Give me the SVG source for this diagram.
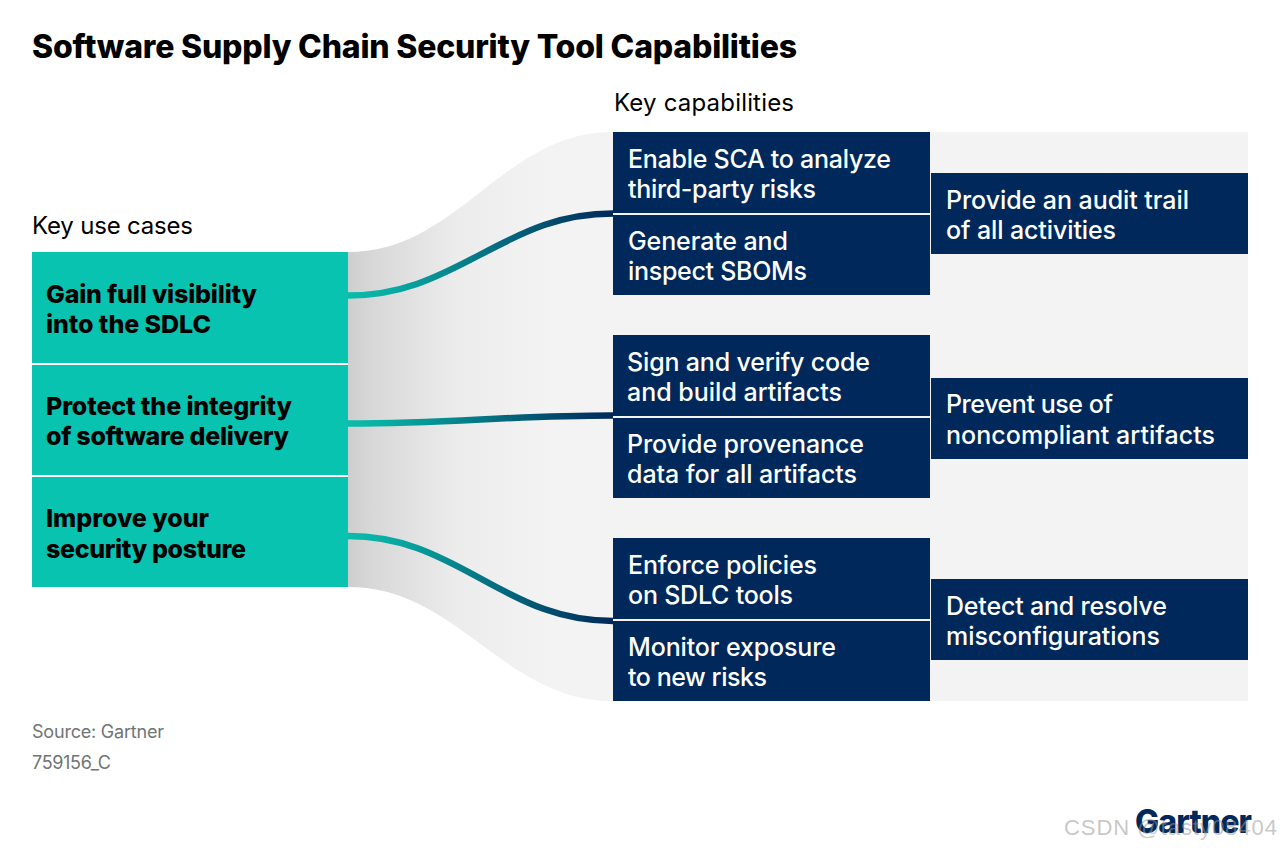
<svg xmlns="http://www.w3.org/2000/svg" width="1280" height="848" viewBox="0 0 1280 848">
<style>
text{font-family:Inter,"Liberation Sans",sans-serif}
.t{font-size:32px;font-weight:800;fill:#000}
.h{font-size:24px;font-weight:400;fill:#000}
.u{font-size:25px;font-weight:800;fill:#000}
.c{font-size:25px;font-weight:500;fill:#fff}
.s{font-size:18px;fill:#6e7575}
.teal{fill:#08c3af}
.navy{fill:#00285a}
.link{fill:none;stroke-width:6.500}
</style>
<defs>
<linearGradient id="band" gradientUnits="userSpaceOnUse" x1="348" y1="0" x2="545" y2="0">
<stop offset="0" stop-color="#cecece"/><stop offset="0.127" stop-color="#d8d8d8"/><stop offset="0.553" stop-color="#ececec"/><stop offset="1" stop-color="#f3f3f3"/>
</linearGradient>
<linearGradient id="lg1" gradientUnits="userSpaceOnUse" x1="348" y1="0" x2="613" y2="0">
<stop offset="0" stop-color="#08bdaa"/><stop offset="0.15" stop-color="#08ada3"/><stop offset="1" stop-color="#00285a"/>
</linearGradient>
</defs>
<rect width="1280" height="848" fill="#fff"/>
<text class="t" x="32" y="58" textLength="765">Software Supply Chain Security Tool Capabilities</text>
<text class="h" x="614" y="111" textLength="180">Key capabilities</text>
<text class="h" x="32" y="234" textLength="161">Key use cases</text>
<path id="band-bg" d="M348 252C400 252 435.500 227 480.500 192S561 132 613 132H1248V701H613C561 701 525.500 677.300 480.500 644S400 587 348 587Z" fill="url(#band)"/>
<g id="connectors">
<path class="link" stroke="url(#lg1)" d="M348 295.500C400 295.500 435.500 278.400 480.500 254.500S561 213.500 613 213.500"/>
<path class="link" stroke="url(#lg1)" d="M348 423.500C400 423.500 435.500 421.800 480.500 419.500S561 415.500 613 415.500"/>
<path class="link" stroke="url(#lg1)" d="M348 536C400 536 435.500 553.700 480.500 578.500S561 621 613 621"/>
</g>
<g id="use-1"><rect class="teal" x="32" y="252" width="316" height="111"/><text class="u" x="46" y="303" textLength="211">Gain full visibility</text><text class="u" x="46" y="333" textLength="165">into the SDLC</text></g>
<g id="use-2"><rect class="teal" x="32" y="365" width="316" height="110"/><text class="u" x="46" y="415" textLength="246">Protect the integrity</text><text class="u" x="46" y="445" textLength="243">of software delivery</text></g>
<g id="use-3"><rect class="teal" x="32" y="477" width="316" height="110"/><text class="u" x="46" y="527" textLength="163">Improve your</text><text class="u" x="46" y="558" textLength="200">security posture</text></g>
<g id="cap-1"><rect class="navy" x="613" y="132" width="317" height="81"/><text class="c" x="628" y="168" textLength="263">Enable SCA to analyze</text><text class="c" x="628" y="198" textLength="188">third-party risks</text></g>
<g id="cap-2"><rect class="navy" x="613" y="215" width="317" height="80"/><text class="c" x="628" y="250" textLength="160">Generate and</text><text class="c" x="628" y="280" textLength="179">inspect SBOMs</text></g>
<g id="cap-3"><rect class="navy" x="613" y="335" width="317" height="81"/><text class="c" x="627" y="371" textLength="243">Sign and verify code</text><text class="c" x="627" y="401" textLength="215">and build artifacts</text></g>
<g id="cap-4"><rect class="navy" x="613" y="418" width="317" height="80"/><text class="c" x="627" y="453" textLength="237">Provide provenance</text><text class="c" x="627" y="483" textLength="230">data for all artifacts</text></g>
<g id="cap-5"><rect class="navy" x="613" y="538" width="317" height="81"/><text class="c" x="628" y="574" textLength="189">Enforce policies</text><text class="c" x="628" y="604" textLength="165">on SDLC tools</text></g>
<g id="cap-6"><rect class="navy" x="613" y="621" width="317" height="80"/><text class="c" x="628" y="656" textLength="208">Monitor exposure</text><text class="c" x="628" y="686" textLength="139">to new risks</text></g>
<g id="out-1"><rect class="navy" x="931" y="173" width="317" height="81"/><text class="c" x="946" y="209" textLength="243">Provide an audit trail</text><text class="c" x="946" y="239" textLength="170">of all activities</text></g>
<g id="out-2"><rect class="navy" x="931" y="378" width="317" height="81"/><text class="c" x="946" y="413" textLength="167">Prevent use of</text><text class="c" x="946" y="444" textLength="269">noncompliant artifacts</text></g>
<g id="out-3"><rect class="navy" x="931" y="579" width="317" height="81"/><text class="c" x="946" y="615" textLength="221">Detect and resolve</text><text class="c" x="946" y="645" textLength="214">misconfigurations</text></g>
<text class="s" x="32" y="738" textLength="132">Source: Gartner</text>
<text class="s" x="32" y="769" textLength="79">759156_C</text>
<text x="1135" y="833" textLength="117" style="font-size:32px;font-weight:800;fill:#00285a">Gartner</text>
<text x="1064" y="835" textLength="213" style="font-family:'Liberation Sans',sans-serif;font-size:22px;fill:#999;fill-opacity:.55">CSDN @tasty08404</text>
</svg>
